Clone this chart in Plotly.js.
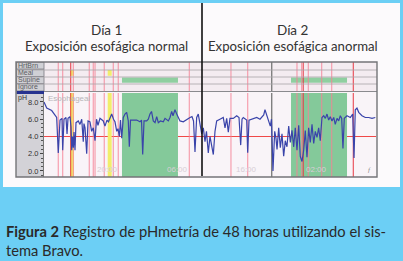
<!DOCTYPE html>
<html><head><meta charset="utf-8">
<script src="https://cdn.plot.ly/plotly-3.0.1.min.js"></script>
<style>html,body{margin:0;padding:0;background:#6ccff5;}#chart{width:403px;height:261px;}</style>
</head><body><div id="chart"></div>
<script>
// ---- DATA ----
// time in clock hours from start (11:00 day 1), continuing past 24
const timeH = [11.0,11.39,12.1,12.57,12.81,13.04,13.29,13.57,13.67,13.86,14.14,14.29,14.43,14.71,14.86,14.96,15.07,15.19,15.29,15.43,15.57,15.9,16.14,16.39,16.61,16.71,16.86,17.1,17.29,17.57,17.81,18.04,18.29,18.5,18.71,19.0,19.47,19.71,20.0,20.21,20.43,20.67,20.93,21.14,21.39,21.57,21.76,21.93,22.1,22.33,22.57,22.81,23.04,23.19,23.36,23.71,24.24,24.71,24.93,25.1,25.29,25.67,25.9,26.14,26.36,26.61,26.86,27.1,27.33,27.64,28.04,28.29,28.76,29.0,29.24,29.43,29.71,29.96,30.19,30.43,30.9,31.39,31.86,32.14,32.36,32.57,32.81,33.04,33.29,33.53,33.76,34.0,34.21,34.47,34.71,34.96,35.19,35.43,35.67,36.14,36.61,36.86,37.1,37.33,37.57,38.04,38.53,38.86,39.1,39.29,39.47,39.96,40.1,40.29,40.67,41.39,41.86,42.39,42.57,42.86,43.07,43.33,43.5,43.71,43.96,44.14,44.29,44.53,44.76,45.0,45.24,45.47,45.71,45.96,46.19,46.43,46.67,46.9,47.14,47.39,47.61,47.86,48.1,48.33,48.57,48.81,49.04,49.29,49.53,49.76,50.0,50.24,50.47,50.71,50.96,51.19,51.43,51.67,51.9,52.14,52.39,52.61,52.86,53.1,53.33,53.53,53.71,53.9,54.29,54.76,55.1,55.29,55.47,55.71,55.96,56.43,56.9,57.39,57.86,58.33];
const phValues = [8.0,7.3,7.0,6.5,6.2,2.1,5.9,6.1,2.4,6.0,6.2,4.3,6.1,6.3,5.1,2.4,4.0,2.7,4.5,2.4,5.6,5.8,5.4,6.0,3.4,5.5,5.0,2.0,5.8,5.7,4.6,5.0,3.5,6.0,5.3,6.1,5.8,5.2,5.9,5.7,6.2,6.6,6.0,5.7,4.6,4.9,4.0,5.9,3.8,6.2,6.6,6.8,5.8,2.8,5.9,5.9,5.9,5.7,5.9,1.9,5.8,5.8,6.0,6.6,6.9,5.8,5.6,6.3,5.6,5.8,5.7,6.1,5.8,6.2,6.9,6.4,7.1,6.6,6.1,5.8,5.7,6.0,6.2,6.3,5.8,2.2,6.2,6.6,5.6,4.3,5.0,3.4,4.6,2.1,4.0,2.6,1.9,4.6,5.8,6.0,6.2,5.0,6.1,4.5,6.1,6.1,6.4,6.2,3.0,6.0,6.2,5.9,2.1,5.9,6.0,6.2,6.0,6.5,7.1,6.3,6.0,5.2,6.0,0.0,4.6,3.8,2.5,5.0,2.7,4.3,1.7,3.5,2.8,5.2,3.3,4.7,2.8,5.0,2.4,5.3,1.7,1.1,2.4,4.7,1.6,5.0,3.3,5.4,3.2,4.6,3.9,5.0,3.5,6.2,6.4,6.1,6.6,5.9,6.3,5.8,6.2,5.4,6.1,5.8,6.4,6.1,2.6,6.1,6.4,6.2,6.6,1.5,7.1,7.3,6.8,6.4,6.2,6.2,6.1,6.2];

const eventTimes = [13.04,13.67,15.19,17.47,18.04,18.29,19.61,20.9,21.61,31.76,37.71,40.1,47.14,47.81,48.76,50.67,52.1];
const strongEventTimes = [14.81,48.04,55.19];
const mealStart = [14.71,20.1];
const mealEnd = [15.29,20.67];
const supineStart = [22.14,46.29];
const supineEnd = [30.14,54.29];
const dayMarkerTimes = [43.53];
const refluxThreshold = 4;

const xTickVals = [20,30,40,50];
const xTickText = ['20:00','06:00','16:00','02:00'];
const yTickVals = [0,2,4,6,8];
const yTickText = ['0.0','2.0','4.0','6.0','8.0'];
const rowLabels = ['HrtBrn','Meal','Supine','Ignore'];
const dayTitles = ['Día 1','Día 2'];
const daySubtitles = ['Exposición esofágica normal','Exposición esofágica anormal'];
const captionBold = 'Figura 2';
const captionText = ' Registro de pHmetría de 48 horas utilizando el sis-<br>tema Bravo.';

// ---- LAYOUT HELPERS ----
const W = 403, H = 261;
const px = v => v / W;
const py = v => 1 - v / H;
const X_RANGE = [11, 58.43];
const Y_RANGE = [-0.7, 9.04];
const ROWS_RANGE = [0, 4];

const shapes = [];
// white panel
shapes.push({type:'rect', xref:'paper', yref:'paper', x0:px(3), x1:px(400), y0:py(187), y1:py(3), fillcolor:'#fcfafc', line:{width:0}, layer:'below'});
// label column backgrounds
shapes.push({type:'rect', xref:'paper', yref:'paper', x0:px(16), x1:px(44), y0:py(177), y1:py(62), fillcolor:'#d3d2d7', line:{width:0}, layer:'below'});
// rows background & plot background
shapes.push({type:'rect', xref:'paper', yref:'paper', x0:px(44), x1:px(377), y0:py(91), y1:py(62), fillcolor:'#f4ecf1', line:{width:0}, layer:'below'});
shapes.push({type:'rect', xref:'paper', yref:'paper', x0:px(44), x1:px(377), y0:py(177), y1:py(92), fillcolor:'#f9f4f8', line:{width:0}, layer:'below'});
// row label boxes
rowLabels.forEach((lab, i) => {
  const top = 3 - i;
  shapes.push({type:'rect', xref:'paper', yref:'y2', x0:px(16.5), x1:px(44), y0:top, y1:top+1, fillcolor:'#d0d0d5', line:{color:'#7a7a80', width:0.8}, layer:'below'});
});
// supine (green) bands on rows and pH area
supineStart.forEach((s, i) => {
  shapes.push({type:'rect', xref:'x', yref:'y2', x0:s, x1:supineEnd[i], y0:1.15, y1:1.85, fillcolor:'#8fcfa0', line:{width:0}, layer:'below'});
  shapes.push({type:'rect', xref:'x', yref:'y', x0:s, x1:supineEnd[i], y0:Y_RANGE[0], y1:Y_RANGE[1], fillcolor:'#84c99a', line:{width:0}, layer:'below'});
});
// meal (yellow) bands
mealStart.forEach((s, i) => {
  shapes.push({type:'rect', xref:'x', yref:'y2', x0:s, x1:mealEnd[i], y0:2.1, y1:2.9, fillcolor:'#f2ee6a', line:{width:0}, layer:'below'});
  shapes.push({type:'rect', xref:'x', yref:'y', x0:s, x1:mealEnd[i], y0:Y_RANGE[0], y1:Y_RANGE[1], fillcolor:'#f2ee6a', line:{width:0}, layer:'below'});
});
// event lines
function vline(t, color, w) {
  shapes.push({type:'line', xref:'x', yref:'y2', x0:t, x1:t, y0:ROWS_RANGE[0], y1:ROWS_RANGE[1], line:{color:color, width:w}, layer:'below'});
  shapes.push({type:'line', xref:'x', yref:'y', x0:t, x1:t, y0:Y_RANGE[0], y1:Y_RANGE[1], line:{color:color, width:w}, layer:'below'});
}
eventTimes.forEach(t => vline(t, 'rgba(246,130,150,0.75)', 1.2));
strongEventTimes.forEach(t => vline(t, 'rgba(232,60,70,0.85)', 1.2));
dayMarkerTimes.forEach(t => vline(t, '#808080', 1.4));
// reflux threshold line
shapes.push({type:'line', xref:'paper', yref:'y', x0:px(44), x1:px(376), y0:refluxThreshold, y1:refluxThreshold, line:{color:'#f04848', width:1.1}, layer:'below'});
// row separators
[70,77,84].forEach(yy => shapes.push({type:'line', xref:'paper', yref:'paper', x0:px(16), x1:px(377), y0:py(yy), y1:py(yy), line:{color:'#a8a4a8', width:0.8}, layer:'above'}));
// dark separator and blue bar
shapes.push({type:'line', xref:'paper', yref:'paper', x0:px(44), x1:px(377), y0:py(91.5), y1:py(91.5), line:{color:'#8a8a8e', width:1.2}, layer:'above'});
shapes.push({type:'rect', xref:'paper', yref:'paper', x0:px(16.5), x1:px(44), y0:py(94), y1:py(91), fillcolor:'#27338f', line:{width:0}, layer:'above'});
// frame
shapes.push({type:'rect', xref:'paper', yref:'paper', x0:px(16), x1:px(377), y0:py(177), y1:py(62), line:{color:'#747478', width:1.4}, layer:'above'});
// day divider
shapes.push({type:'line', xref:'paper', yref:'paper', x0:px(202), x1:px(202), y0:py(176), y1:py(3), line:{color:'#111', width:1.6}, layer:'above'});

const annotations = [];
const titleCenters = [106, 293];
dayTitles.forEach((t, i) => {
  annotations.push({text:t, xref:'paper', yref:'paper', x:px(titleCenters[i]), y:py(30), xanchor:'center', yanchor:'middle', showarrow:false, font:{family:'Lato, sans-serif', size:13.5, color:'#333'}});
  annotations.push({text:daySubtitles[i], xref:'paper', yref:'paper', x:px(titleCenters[i]), y:py(46.5), xanchor:'center', yanchor:'middle', showarrow:false, font:{family:'Lato, sans-serif', size:13.2, color:'#333'}});
});
rowLabels.forEach((lab, i) => {
  annotations.push({text:lab, xref:'paper', yref:'y2', x:px(17), y:3.5 - i, xanchor:'left', yanchor:'middle', showarrow:false, borderpad:0, font:{family:'Liberation Sans Narrow, Liberation Sans, Arial, sans-serif', size:7, color:'#5c5c62'}});
});
xTickVals.forEach((v, i) => {
  annotations.push({text:xTickText[i], xref:'x', yref:'paper', x:v, y:py(169.5), xanchor:'center', yanchor:'middle', showarrow:false, font:{family:'Liberation Sans, Arial, sans-serif', size:8, color:'#d8ced6'}});
});
annotations.push({text:'pH', xref:'paper', yref:'paper', x:px(17), y:py(97.5), xanchor:'left', yanchor:'middle', showarrow:false, borderpad:0, font:{family:'Liberation Sans, Arial, sans-serif', size:7, color:'#333'}});
annotations.push({text:'Esophageal', xref:'paper', yref:'paper', x:px(46), y:py(98), xanchor:'left', yanchor:'middle', showarrow:false, font:{family:'Liberation Sans, Arial, sans-serif', size:8, color:'#b8b4b8'}});
annotations.push({text:'<i>f</i>', xref:'paper', yref:'paper', x:px(369), y:py(170), xanchor:'center', yanchor:'middle', showarrow:false, font:{family:'Liberation Serif, serif', size:7, color:'#888'}});
annotations.push({text:'<b>' + captionBold + '</b>' + captionText, xref:'paper', yref:'paper', x:px(4), y:py(240), xanchor:'left', yanchor:'middle', align:'left', showarrow:false, font:{family:'Lato, sans-serif', size:14.7, color:'#2a2a2a'}});

const traces = [
  {x:timeH, y:phValues, type:'scatter', mode:'lines', line:{color:'#3a44aa', width:1.2}, xaxis:'x', yaxis:'y', hoverinfo:'skip'},
  {x:[], y:[], type:'scatter', mode:'lines', xaxis:'x', yaxis:'y2', hoverinfo:'skip'}
];

const layout = {
  width:W, height:H, margin:{l:0,r:0,t:0,b:0,pad:0},
  paper_bgcolor:'#6ccff5', plot_bgcolor:'rgba(0,0,0,0)', showlegend:false,
  xaxis:{domain:[px(44), px(376)], range:X_RANGE, anchor:'y', showticklabels:false, ticks:'', showgrid:false, zeroline:false, showline:false},
  yaxis:{domain:[1-177/H, 1-93/H], range:Y_RANGE, anchor:'x', tickvals:yTickVals, ticktext:yTickText, ticks:'outside', ticklen:3, tickcolor:'#444', showgrid:false, zeroline:false, showline:true, linecolor:'#777', linewidth:1, tickfont:{family:'Liberation Sans, Arial, sans-serif', size:7.5, color:'#333'}, minor:{dtick:0.5, ticks:'outside', ticklen:2, tickcolor:'#555'}},
  yaxis2:{domain:[1-91/H, 1-62/H], range:ROWS_RANGE, anchor:'x', showticklabels:false, showgrid:false, zeroline:false, ticks:''},
  shapes:shapes, annotations:annotations
};
Plotly.newPlot('chart', traces, layout, {staticPlot:true, displayModeBar:false});
</script></body></html>
